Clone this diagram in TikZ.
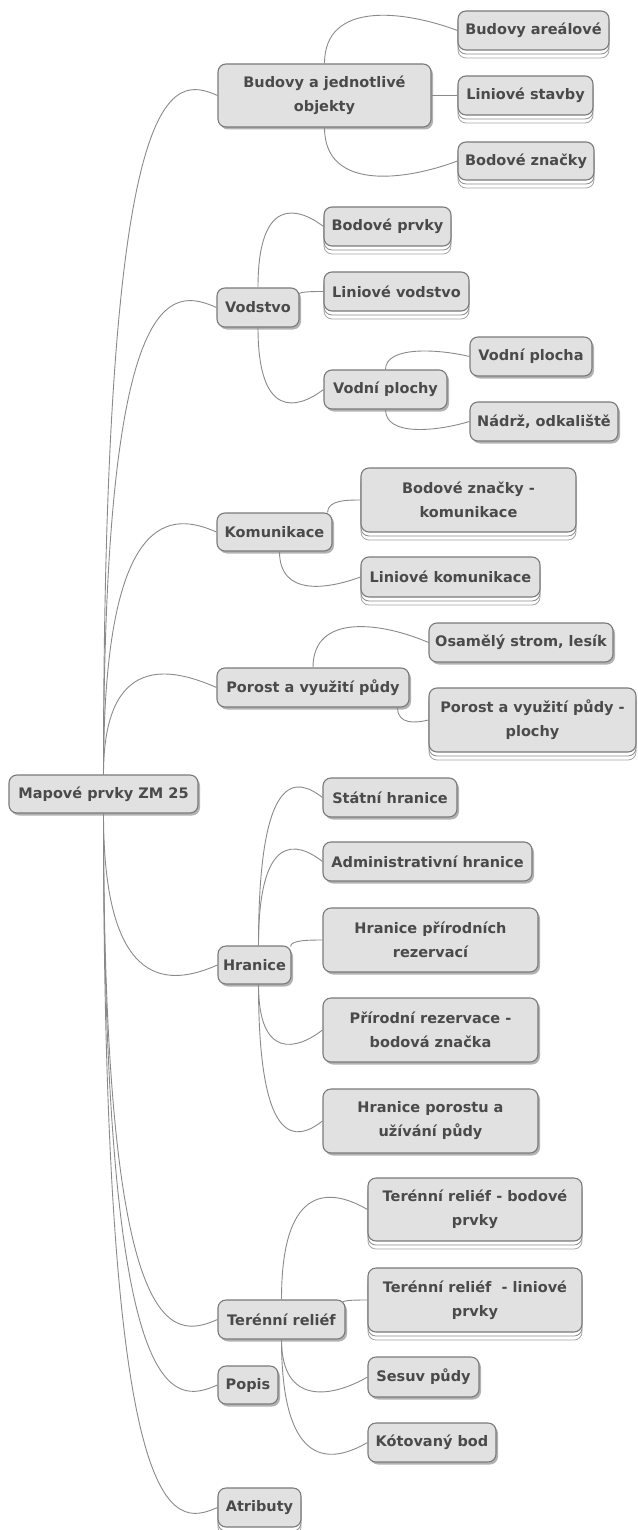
\documentclass[tikz,border=0pt]{standalone}
\usepackage{fontspec}
\setmainfont{DejaVu Sans}
\usetikzlibrary{calc,shadows}
\definecolor{nodefill}{HTML}{E1E1E1}
\definecolor{nodeline}{HTML}{7A7A7A}
\definecolor{txt}{HTML}{4A4A4A}
\definecolor{linkc}{HTML}{8A8A8A}
\tikzset{
 mmbase/.style={draw=nodeline, fill=nodefill, rounded corners=8pt, line width=1.1pt,
   text=txt, font=\fontsize{14.5}{24}\selectfont\bfseries, align=center, inner sep=2pt},
 mm/.style={mmbase, drop shadow={shadow xshift=2pt,shadow yshift=-2.5pt,opacity=0.3,fill=black}},
 mmst/.style={mmbase,
   copy shadow={shadow xshift=0pt,shadow yshift=-8pt,fill=white,draw=black!35,line width=0.8pt},
   copy shadow={shadow xshift=0pt,shadow yshift=-4pt,fill=white,draw=black!45,line width=0.8pt}},
 sz/.style 2 args={minimum width=#1pt, minimum height=#2pt},
 link/.style={draw=linkc, line width=0.9pt}
}
\newcommand\lkup[4]{\draw[link] (#1) .. controls ($(#1|-#2)+(0,-#3)$) and ($(#2)!0.4!(#1|-#2)+(0,-#4)$) .. (#2);}
\newcommand\lkdn[4]{\draw[link] (#1) .. controls ($(#1|-#2)+(0,#3)$) and ($(#2)!0.4!(#1|-#2)+(0,#4)$) .. (#2);}
\begin{document}
\begin{tikzpicture}[x=1pt,y=-1pt]
\useasboundingbox (0,0) rectangle (637,1530);
\node[mm,sz={189}{38}] (root) at (103.5,794) {Mapové prvky ZM 25};
\node[mm,sz={213}{63}] (bud) at (324.5,95.5) {Budovy a jednotlivé\\objekty};
\node[mmst,sz={151}{39}] (bar) at (533.5,30.5) {Budovy areálové};
\node[mmst,sz={135}{39}] (lin) at (525.5,95.5) {Liniové stavby};
\node[mmst,sz={136}{38}] (bz) at (526,161) {Bodové značky};
\node[mm,sz={82}{39}] (vod) at (258,307.5) {Vodstvo};
\node[mmst,sz={127}{39}] (bp) at (387.5,226.5) {Bodové prvky};
\node[mmst,sz={145}{39}] (lv) at (396.5,291.5) {Liniové vodstvo};
\node[mm,sz={123}{39}] (vp) at (385.5,389.5) {Vodní plochy};
\node[mm,sz={122}{39}] (vpa) at (531,356.5) {Vodní plocha};
\node[mm,sz={148}{39}] (nad) at (544,421.5) {Nádrž, odkaliště};
\node[mm,sz={115}{38}] (kom) at (274.5,532) {Komunikace};
\node[mmst,sz={215}{64}] (bzk) at (468.5,500) {Bodové značky -\\komunikace};
\node[mmst,sz={179}{40}] (lk) at (450.5,577) {Liniové komunikace};
\node[mm,sz={192}{39}] (por) at (313,687.5) {Porost a využití půdy};
\node[mm,sz={184}{39}] (osa) at (521,642.5) {Osamělý strom, lesík};
\node[mmst,sz={207}{64}] (ppl) at (532.5,720) {Porost a využití půdy -\\plochy};
\node[mm,sz={73}{38}] (hra) at (254.5,965) {Hranice};
\node[mm,sz={134}{39}] (st) at (390,797.5) {Státní hranice};
\node[mm,sz={209}{39}] (adm) at (427.5,861.5) {Administrativní hranice};
\node[mm,sz={215}{64}] (hpr) at (430.5,940) {Hranice přírodních\\rezervací};
\node[mm,sz={215}{64}] (prz) at (430.5,1030) {Přírodní rezervace -\\bodová značka};
\node[mm,sz={215}{64}] (hpo) at (430.5,1121) {Hranice porostu a\\užívání půdy};
\node[mm,sz={127}{39}] (ter) at (281.5,1319.5) {Terénní reliéf};
\node[mmst,sz={214}{63}] (trb) at (475,1209.5) {Terénní reliéf - bodové\\prvky};
\node[mmst,sz={214}{64}] (trl) at (475,1300) {Terénní reliéf\ \ - liniové\\prvky};
\node[mm,sz={111}{40}] (ses) at (423.5,1377) {Sesuv půdy};
\node[mm,sz={128}{39}] (kot) at (432,1442.5) {Kótovaný bod};
\node[mm,sz={60}{38}] (pop) at (248,1385) {Popis};
\node[mmst,sz={83}{39}] (atr) at (259.5,1507.5) {Atributy};
% root links
\lkup{root.north}{bud.west}{30}{20}
\lkup{root.north}{vod.west}{30}{20}
\lkup{root.north}{kom.west}{25}{20}
\lkup{root.north}{por.west}{35}{20}
\lkdn{root.south}{hra.west}{30}{20}
\lkdn{root.south}{ter.west}{30}{20}
\lkdn{root.south}{pop.west}{30}{20}
\lkdn{root.south}{atr.west}{30}{20}
% budovy
\lkup{bud.north}{bar.west}{30}{20}
\draw[link] (bud.east) -- (lin.west);
\lkdn{bud.south}{bz.west}{30}{20}
% vodstvo
\lkup{vod.north}{bp.west}{30}{20}
\coordinate (vodA) at ($(vod.east)+(-1,-13)$);
\lkup{vodA}{lv.west}{0}{0}
\lkdn{vod.south}{vp.west}{30}{20}
\lkup{vp.north}{vpa.west}{10}{8}
\lkdn{vp.south}{nad.west}{15}{10}
% komunikace
\coordinate (komA) at ($(kom.north east)+(-5,0)$);
\lkup{komA}{bzk.west}{0}{0}
\coordinate (komB) at ($(kom.south)+(5,0)$);
\lkdn{komB}{lk.west}{20}{12}
% porost
\lkup{por.north}{osa.west}{30}{20}
\coordinate (porB) at ($(por.south east)+(-12,0)$);
\lkdn{porB}{ppl.west}{5}{3}
% hranice
\coordinate (hraT) at ($(hra.north)+(4,0)$);
\coordinate (hraB) at ($(hra.south)+(4,0)$);
\coordinate (hraR) at ($(hra.north east)+(-1,1)$);
\lkup{hraT}{st.west}{30}{20}
\lkup{hraT}{adm.west}{30}{20}
\lkup{hraR}{hpr.west}{0}{0}
\lkdn{hraB}{prz.west}{30}{20}
\lkdn{hraB}{hpo.west}{30}{20}
% terenni relief
\lkup{ter.north}{trb.west}{30}{20}
\coordinate (terR) at ($(ter.north east)+(-3,3)$);
\lkup{terR}{trl.west}{0}{0}
\lkdn{ter.south}{ses.west}{30}{20}
\lkdn{ter.south}{kot.west}{30}{20}
\end{tikzpicture}
\end{document}
